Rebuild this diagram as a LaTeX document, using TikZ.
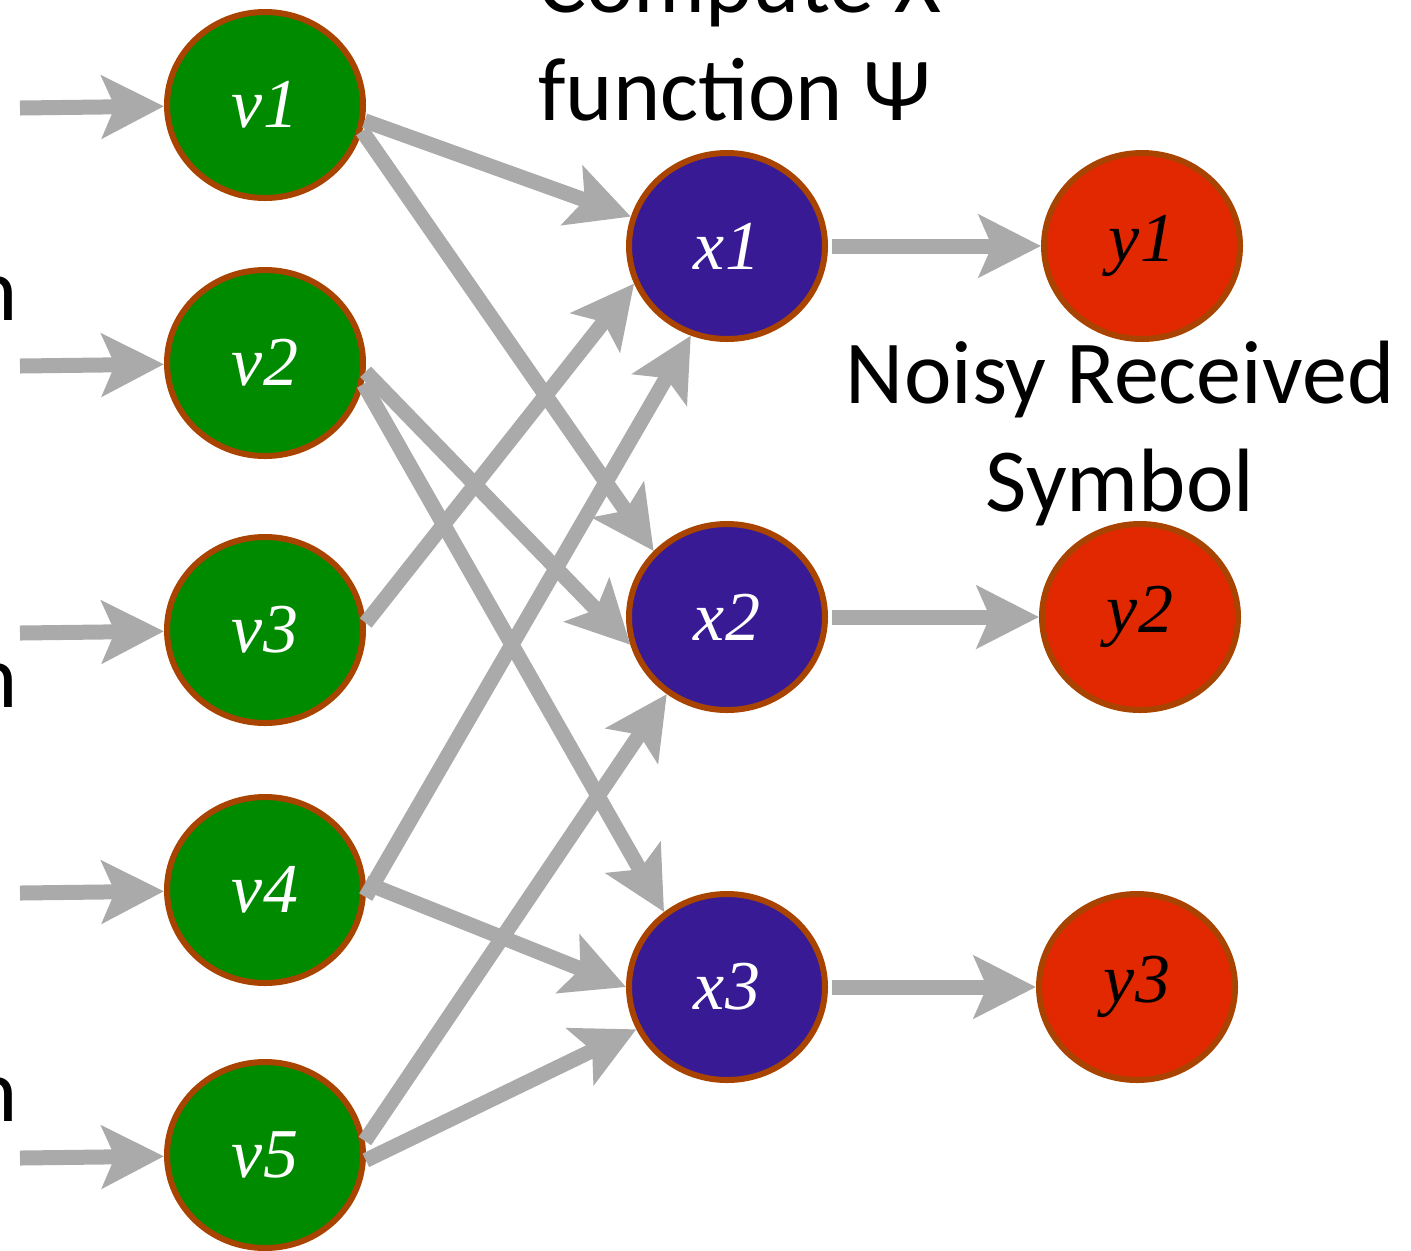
\documentclass[tikz,border=0pt]{standalone}
\usepackage{fontspec}
\usetikzlibrary{arrows.meta,shapes.geometric}
\newfontfamily\calfont{Carlito}
\newfontfamily\lblit{Liberation Serif Italic}
\definecolor{vgreen}{HTML}{008A00}
\definecolor{xpurple}{HTML}{371A94}
\definecolor{yred}{HTML}{E12800}
\definecolor{rim}{HTML}{A84300}
\definecolor{wire}{HTML}{AAAAAA}
\begin{document}
\begin{tikzpicture}[x=0.5pt,y=-0.5pt,
  ball/.style={ellipse, draw=rim, line width=3pt, minimum width=98pt,
    minimum height=93pt, inner sep=0pt,
    font=\lblit\fontsize{35}{35}\selectfont},
  vball/.style={ball, fill=vgreen, text=white},
  xball/.style={ball, fill=xpurple, text=white},
  yball/.style={ball, fill=yred, text=black},
  arr/.style={draw=wire, line width=7.5pt,
    -{Stealth[length=31pt, width=31pt, inset=6.5pt]}},
  caption/.style={inner sep=0pt, font=\calfont\fontsize{45}{54}\selectfont}]
\useasboundingbox (0,0) rectangle (1411,1250);

% variable nodes
\node[vball] (v1) at (265,105) {v1};
\node[vball] (v2) at (265,363) {v2};
\node[vball] (v3) at (265,630) {v3};
\node[vball] (v4) at (265,890) {v4};
\node[vball] (v5) at (265,1155) {v5};

% computed symbols
\node[xball] (x1) at (727,246) {x1};
\node[xball] (x2) at (727,617) {x2};
\node[xball] (x3) at (727,987) {x3};

% received symbols
\node[yball] (y1) at (1142,246) {y1};
\node[yball] (y2) at (1140,617) {y2};
\node[yball] (y3) at (1137,987) {y3};

% free ends of the incoming arrows
\coordinate (i1) at (20,108);
\coordinate (i2) at (20,366);
\coordinate (i3) at (20,633);
\coordinate (i4) at (20,893);
\coordinate (i5) at (20,1158);

\draw[arr] (i1) -- (v1);
\draw[arr] (i2) -- (v2);
\draw[arr] (i3) -- (v3);
\draw[arr] (i4) -- (v4);
\draw[arr] (i5) -- (v5);

% encoding connections
\draw[arr] (v1.-9) -- (x1.163);
\draw[arr] (v1.-15) -- (x2.138);
\draw[arr] (v2.-5) -- (x2.196);
\draw[arr] (v2.-12) -- (x3.130);
\draw[arr] (v3.4) -- (x1.202);
\draw[arr] (v4.-4) -- (x1.248);
\draw[arr] (v4.4) -- (x3.180);
\draw[arr] (v5.8) -- (x2.232);
\draw[arr] (v5.-3) -- (x3.205);

% channel
\draw[arr, shorten <=2pt] (x1) -- (y1);
\draw[arr, shorten <=2pt] (x2) -- (y2);
\draw[arr, shorten <=2pt] (x3) -- (y3);

% captions
\node[caption, anchor=base west] (c1) at (538,12) {Compute X};
\node[caption, anchor=base west] (c2) at (538,120) {function Ψ};
\node[caption, anchor=base] (c3) at (1120,403) {Noisy Received};
\node[caption, anchor=base] (c4) at (1120,511) {Symbol};

% words running in from the left margin
\node[caption, anchor=base east] (n1) at (18,320) {n};
\node[caption, anchor=base east] (n2) at (18,707) {n};
\node[caption, anchor=base east] (n3) at (18,1121) {n};
\end{tikzpicture}
\end{document}
